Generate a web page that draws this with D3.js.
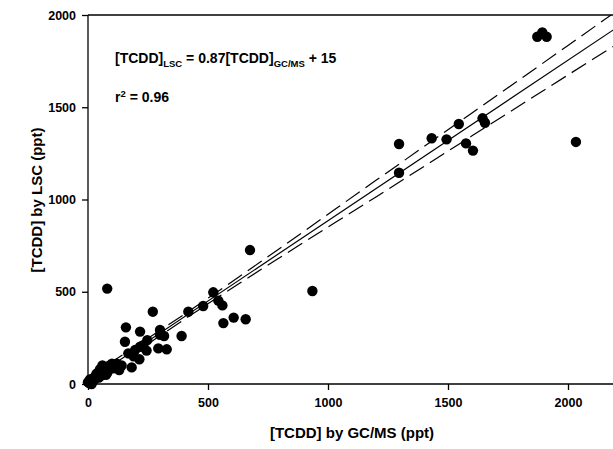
<!DOCTYPE html>
<html>
<head>
<meta charset="utf-8">
<script src="https://cdn.jsdelivr.net/npm/d3@7"></script>
<style>
  body { margin: 0; background: #fff; }
  svg text { font-family: "Liberation Sans", Arial, sans-serif; font-weight: bold; fill: #000; }
</style>
</head>
<body>
<svg id="chart"></svg>
<script>
// GC/MS value (x) and LSC value (y), ppt
var gcms = [1872, 1893, 1911, 2033, 1296, 1296, 1432, 1494, 1545, 1575, 1604, 1644, 1654,
    675, 935, 522, 480, 543, 560, 564, 607, 657, 418, 270, 80,
    158, 217, 300, 300, 317, 390, 154, 247, 217, 196, 168, 293, 328, 244, 214, 182, 130, 140, 190, 230, 120,
    50, 70, 90, 105, 60, 40, 75, 30, 20, 10, 5, 15, 25, 45, 35, 55, 65, 80, 0, 8, 100, 85];
var lsc = [1882, 1906, 1882, 1312, 1301, 1145, 1332, 1326, 1409, 1304, 1265, 1440, 1416,
    726, 504, 497, 423, 452, 426, 330, 360, 351, 392, 392, 517,
    307, 284, 293, 266, 260, 260, 229, 238, 202, 184, 166, 193, 188, 181, 134, 90, 76, 100, 150, 210, 110,
    80, 90, 100, 85, 100, 60, 50, 40, 30, 15, 5, 0, 20, 35, 55, 45, 70, 60, 10, 25, 110, 75];

// fit: [TCDD]LSC = 0.87 [TCDD]GC/MS + 15
var slope = 0.87, intercept = 15;
// 95% band half width
var bandX = [0, 400, 800, 1200, 1600, 2000, 2200];
var bandW = [22, 14, 25, 45, 62, 80, 90];

var xTicks = [0, 500, 1000, 1500, 2000];
var yTicks = [0, 500, 1000, 1500, 2000];

var width = 613, height = 449;
var margin = {top: 15, left: 88, bottom: 384};

var svg = d3.select("#chart").attr("width", width).attr("height", height);

var xScale = d3.scaleLinear().domain([0, 2200]).range([margin.left, 616]);
var yScale = d3.scaleLinear().domain([0, 2000]).range([margin.bottom, margin.top]);

// axes
var xAxis = d3.axisBottom(xScale).tickValues(xTicks).tickSize(6).tickPadding(8).tickFormat(d3.format("d"));
var yAxis = d3.axisLeft(yScale).tickValues(yTicks).tickSize(6).tickPadding(6).tickFormat(d3.format("d"));

var gx = svg.append("g")
    .attr("transform", "translate(0," + margin.bottom + ")")
    .call(xAxis);
var gy = svg.append("g")
    .attr("transform", "translate(" + margin.left + ",0)")
    .call(yAxis);

[gx, gy].forEach(function(g) {
    g.select(".domain").remove();
    g.selectAll("line").attr("stroke", "#000").attr("stroke-width", 1.3);
    g.selectAll("text").style("font-size", "12.5px");
});

// frame lines
svg.append("line")
    .attr("x1", margin.left).attr("x2", 616)
    .attr("y1", margin.bottom).attr("y2", margin.bottom)
    .attr("stroke", "#000").attr("stroke-width", 1.3);
svg.append("line")
    .attr("x1", margin.left).attr("x2", margin.left)
    .attr("y1", margin.top).attr("y2", margin.bottom)
    .attr("stroke", "#000").attr("stroke-width", 1.3);
svg.append("line")
    .attr("x1", margin.left).attr("x2", 616)
    .attr("y1", margin.top).attr("y2", margin.top)
    .attr("stroke", "#000").attr("stroke-width", 1.3);

var clip = svg.append("clipPath").attr("id", "plotclip")
    .append("rect")
    .attr("x", margin.left).attr("y", margin.top)
    .attr("width", 616 - margin.left).attr("height", margin.bottom - margin.top);

var plot = svg.append("g").attr("clip-path", "url(#plotclip)");

// regression line and band
var fitLine = d3.line()
    .x(function(d) { return xScale(d); })
    .y(function(d) { return yScale(slope * d + intercept); });

plot.append("path")
    .datum([0, 2200])
    .attr("d", fitLine)
    .attr("fill", "none").attr("stroke", "#000").attr("stroke-width", 1.2);

var bandLine = function(sign) {
    return d3.line()
        .curve(d3.curveMonotoneX)
        .x(function(d, i) { return xScale(d); })
        .y(function(d, i) { return yScale(slope * d + intercept + sign * bandW[i]); });
};

[1, -1].forEach(function(s) {
    plot.append("path")
        .datum(bandX)
        .attr("d", bandLine(s))
        .attr("fill", "none").attr("stroke", "#000").attr("stroke-width", 1.2)
        .attr("stroke-dasharray", "17,7");
});

// points
svg.append("g").selectAll("circle")
    .data(gcms)
    .enter().append("circle")
    .attr("cx", function(d) { return xScale(d); })
    .attr("cy", function(d, i) { return yScale(lsc[i]); })
    .attr("r", 5.2)
    .attr("fill", "#000");

// axis titles
svg.append("text")
    .attr("x", 352).attr("y", 438)
    .attr("text-anchor", "middle")
    .style("font-size", "15px")
    .text("[TCDD] by GC/MS (ppt)");

svg.append("text")
    .attr("transform", "translate(42,200) rotate(-90)")
    .attr("text-anchor", "middle")
    .style("font-size", "15px")
    .text("[TCDD] by LSC (ppt)");

// equation
var eq = svg.append("text").attr("x", 115).attr("y", 63).style("font-size", "14px");
eq.append("tspan").text("[TCDD]");
eq.append("tspan").attr("dy", 4).style("font-size", "9.5px").text("LSC");
eq.append("tspan").attr("dy", -4).text(" = 0.87[TCDD]");
eq.append("tspan").attr("dy", 4).style("font-size", "9.5px").text("GC/MS");
eq.append("tspan").attr("dy", -4).text(" + 15");

var r2 = svg.append("text").attr("x", 115).attr("y", 102).style("font-size", "14px");
r2.append("tspan").text("r");
r2.append("tspan").attr("dy", -5).style("font-size", "9.5px").text("2");
r2.append("tspan").attr("dy", 5).text(" = 0.96");
</script>
</body>
</html>
